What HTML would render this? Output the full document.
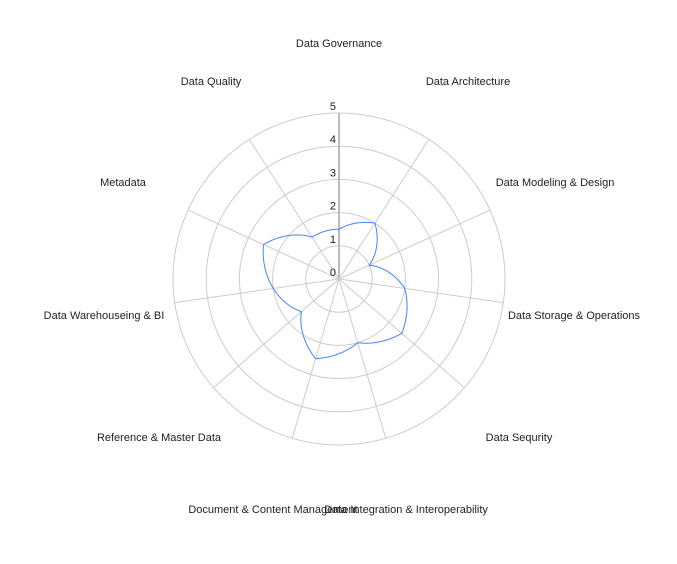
<!DOCTYPE html>
<html><head><meta charset="utf-8"><style>
html,body{margin:0;padding:0;background:#fff;}
svg text{font-family:"Liberation Sans",Roboto,sans-serif;font-size:11px;fill:#222;}
</style></head><body>
<svg id="chart" width="677" height="559" xmlns="http://www.w3.org/2000/svg"></svg>
<script>
const categories = ["Data Governance","Data Architecture","Data Modeling & Design","Data Storage & Operations","Data Sequrity","Data Integration & Interoperability","Document & Content Management","Reference & Master Data","Data Warehouseing & BI","Metadata","Data Quality"];
const values = [1.5, 2, 1, 2, 2.5, 2, 2.5, 1.5, 2, 2.5, 1.5];
const ticks = [0,1,2,3,4,5];
const maxVal = 5;

const NS="http://www.w3.org/2000/svg";
const svg=document.getElementById('chart');
const cx=339, cy=279, R=166;
const n=categories.length;
const labelPos=[[339,47],[468,85],[555,186],[574,319],[519,441],[406,513],[273,513],[159,441],[104,319],[123,186],[211,85]];
function ang(i){return i*2*Math.PI/n;}
function polar(a,v){const r=v/maxVal*R;return [cx+r*Math.sin(a), cy-r*Math.cos(a)];}
function pt(i,v){return polar(ang(i),v);}
function mk(tag,attrs){const e=document.createElementNS(NS,tag);for(const k in attrs)e.setAttribute(k,attrs[k]);svg.appendChild(e);return e;}

ticks.forEach(t=>{
  if(t>0){const c=mk('circle',{cx:cx,cy:cy,r:t/maxVal*R,fill:'none',stroke:'#ccc','stroke-width':1});
  
  }
});
categories.forEach((c,i)=>{
  const p=pt(i,maxVal);
  const l=mk('line',{x1:cx,y1:cy,x2:p[0],y2:p[1],stroke:i===0?'#bbb':'#ccc','stroke-width':i===0?2:1});
  
  
  const lp=labelPos[i];
  const tx=mk('text',{x:lp[0],y:lp[1],'text-anchor':'middle'});
  tx.textContent=c;
  
  
});
ticks.forEach(t=>{
  const tx=mk('text',{x:336,y:cy-t/maxVal*R-3,'text-anchor':'end'});
  tx.textContent=t;
  
  
});
let d='';
const steps=30;
for(let i=0;i<n;i++){
  const v1=values[i], v2=values[(i+1)%n];
  for(let s=0;s<steps;s++){
    const f=s/steps;
    const p=polar(ang(i)+f*2*Math.PI/n, v1+(v2-v1)*f);
    d+=(d===''?'M':'L')+p[0].toFixed(2)+','+p[1].toFixed(2)+' ';
  }
}
const path=mk('path',{d:d+'Z',fill:'none',stroke:'#4285f4','stroke-width':1});


</script>
</body></html>
